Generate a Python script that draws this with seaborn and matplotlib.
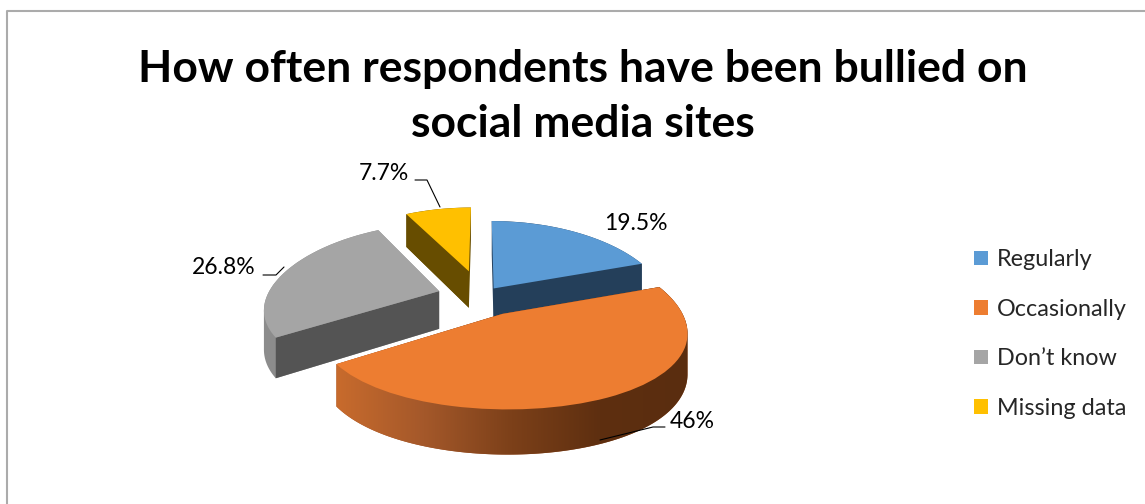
import numpy as np
import matplotlib
matplotlib.use("Agg")
import matplotlib.pyplot as plt
import matplotlib.transforms as mtransforms
from matplotlib.path import Path
from matplotlib.patches import PathPatch, Patch
from matplotlib.colors import LinearSegmentedColormap
import seaborn as sns

# ---- data -------------------------------------------------------------
categories = ["Regularly", "Occasionally", "Don\u2019t know", "Missing data"]
shares = [19.5, 46, 26.8, 7.7]

title_lines = ["How often respondents have been bullied on", "social media sites"]

# ---- styling ------------------------------------------------------------
sns.set_theme(style="white")
plt.rcParams["font.family"] = ["Lato", "DejaVu Sans"]

top_colors = sns.color_palette(["#5B9BD5", "#ED7D31", "#A5A5A5", "#FFC000"])
rim_colors = ["#25405C", "#A0552A", "#8C8C8C", "#6A4F00"]
cut_colors = ["#243F5A", "#8A4A20", "#545454", "#674D00"]
explode = [0.12, 0.25, 0.26, 0.34]
depth_order = [3, 0, 2, 1]          # back to front

# Tilted view of the pie plane (pixel units of the canvas)
CX, CY = 482, 296
SX, SY = 172, 78
PX, PY = 0.20, 0.13
DEPTH = 38


def view(x, y, z=0.0):
    x = np.asarray(x, float)
    y = np.asarray(y, float)
    X = CX + SX * x / (1 + PX * y)
    Y = CY - (SY * y + DEPTH * z) / (1 + PY * y)
    return X, Y


class PieView(mtransforms.Transform):
    input_dims = 2
    output_dims = 2

    def transform_non_affine(self, values):
        v = np.asarray(values, float).reshape(-1, 2)
        X, Y = view(v[:, 0], v[:, 1])
        return np.column_stack([X, Y])


def convex_hull(pts):
    pts = sorted(map(tuple, pts))
    def cross(o, a, b):
        return (a[0] - o[0]) * (b[1] - o[1]) - (a[1] - o[1]) * (b[0] - o[0])
    lower, upper = [], []
    for p in pts:
        while len(lower) >= 2 and cross(lower[-2], lower[-1], p) <= 0:
            lower.pop()
        lower.append(p)
    for p in reversed(pts):
        while len(upper) >= 2 and cross(upper[-2], upper[-1], p) <= 0:
            upper.pop()
        upper.append(p)
    return np.array(lower[:-1] + upper[:-1])


W, H = 1145, 504
fig = plt.figure(figsize=(W / 100, H / 100), dpi=100)
ax = fig.add_axes([0, 0, 1, 1])

wedges, _ = ax.pie(shares, explode=explode, colors=top_colors, startangle=90,
                   counterclock=False, radius=1.0,
                   wedgeprops=dict(linewidth=0))
for w in wedges:
    w.set_transform(PieView() + ax.transData)
    w.set_zorder(3)

orange_grad = LinearSegmentedColormap.from_list(
    "rim", ["#C86B2D", "#A4582A", "#7C4019", "#5E2F10", "#5A2D0F"])

# side walls, drawn back to front
for rank, i in enumerate(depth_order):
    w = wedges[i]
    cx, cy = w.center
    r = w.r
    t = np.radians(np.linspace(w.theta1, w.theta2, 160))
    xs = np.r_[cx, cx + r * np.cos(t)]
    ys = np.r_[cy, cy + r * np.sin(t)]
    Xt, Yt = view(xs, ys, 0.0)
    Xb, Yb = view(xs, ys, -1.0)
    hull = convex_hull(np.column_stack([np.r_[Xt, Xb], np.r_[Yt, Yb]]))
    z0 = 1 + 0.3 * rank
    ax.fill(hull[:, 0], hull[:, 1], color=rim_colors[i], lw=0, zorder=z0)
    if i == 1:
        clip = PathPatch(Path(np.vstack([hull, hull[:1]]), closed=True),
                         transform=ax.transData, facecolor="none", edgecolor="none")
        grad = np.linspace(0, 1, 256)[None, :]
        img = ax.imshow(grad, cmap=orange_grad, aspect="auto", interpolation="bilinear",
                        extent=(hull[:, 0].min(), hull[:, 0].max(),
                                hull[:, 1].max(), hull[:, 1].min()),
                        zorder=z0 + 0.1)
        img.set_clip_path(clip)
    # visible radial cut faces
    for ang, visible in ((w.theta1, np.cos(np.radians(w.theta1)) > 0.05),
                         (w.theta2, np.cos(np.radians(w.theta2)) < -0.05)):
        if not visible:
            continue
        ex = cx + r * np.cos(np.radians(ang))
        ey = cy + r * np.sin(np.radians(ang))
        qx = [cx, ex, ex, cx]
        qy = [cy, ey, ey, cy]
        qz = [0, 0, -1, -1]
        QX, QY = zip(*[view(a, b, c) for a, b, c in zip(qx, qy, qz)])
        ax.fill(QX, QY, color=cut_colors[i], lw=0, zorder=z0 + 0.2)

# value labels with leader lines
label_xy = [(636, 224), (692, 421), (224, 268), (384, 173)]
leaders = [None,
           [(665, 427), (653, 427), (600, 440)],
           [(263, 275), (276, 275), (284, 267)],
           [(415, 180), (427, 180), (440, 207)]]
for v, (lx, ly), lead in zip(shares, label_xy, leaders):
    ax.text(lx, ly, f"{v:g}%", ha="center", va="center", fontsize=16.5,
            color="#000000", zorder=5)
    if lead:
        lx_, ly_ = zip(*lead)
        ax.plot(lx_, ly_, color="#000000", lw=0.8, zorder=5)

# title
for line, base in zip(title_lines, (82, 137)):
    ax.text(583, base, line, ha="center", va="baseline", fontsize=32,
            fontweight="bold", color="#000000")

# legend
handles = [Patch(facecolor=c, edgecolor="none") for c in top_colors]
ax.legend(handles, categories, loc="center left", bbox_to_anchor=(974 / W, 1 - 334 / H),
          frameon=False, fontsize=16.8, handlelength=0.6, handleheight=0.6,
          handletextpad=0.38, labelspacing=1.22, borderpad=0, borderaxespad=0)

# chart-area border
ax.plot([6.5, 6.5, W], [H, 10.5, 10.5], color="#ABABAB", lw=1.5, zorder=6,
        clip_on=False)

ax.set_aspect("auto")
ax.set_xlim(0, W)
ax.set_ylim(H, 0)
ax.set_axis_off()

fig.savefig("out.png", dpi=100, facecolor="white")
